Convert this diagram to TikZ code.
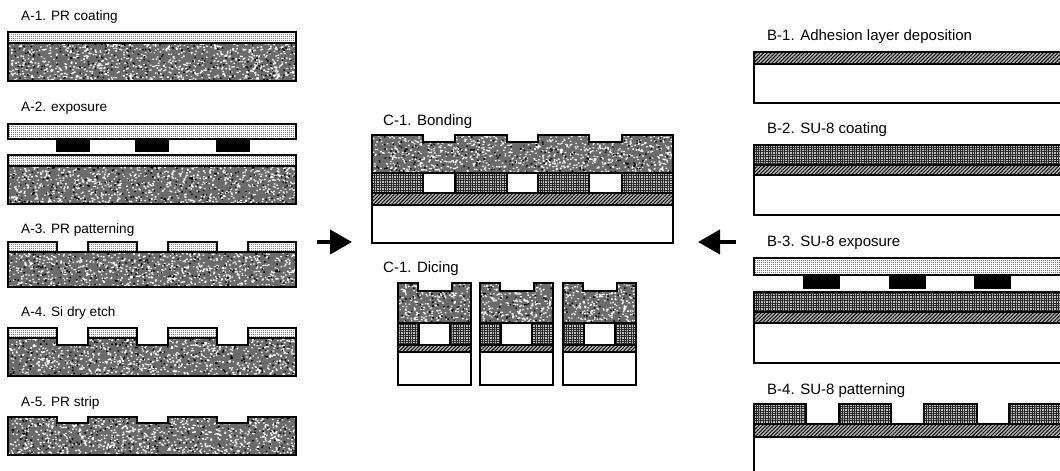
\documentclass[tikz,border=0pt]{standalone}
\usepackage{fontspec}
\setmainfont{Liberation Sans}
\usepackage{tikz}
\usetikzlibrary{arrows.meta, patterns.meta}

\newcommand{\siblock}[5]{%
    \pgfmathtruncatemacro{\noisecount}{#4*#5/12}
    \pgfmathtruncatemacro{\graincount}{#4*#5/45}
    \fill[black!58] #1;
    \begin{scope}
        \clip #1;
        \fill[white] \foreach \n in {1,...,\noisecount}{(#2+#4*rnd,#3+#5*rnd) rectangle ++(1.6,1.3)};
        \fill[black] \foreach \n in {1,...,\graincount}{(#2+#4*rnd,#3+#5*rnd) rectangle ++(1.5,1.5)};
    \end{scope}
    \draw[outline] #1;
}

\begin{document}
\begin{tikzpicture}[
    x=1pt, y=-1pt,
    outline/.style={draw=black, line width=2.2pt},
    steplabel/.style={anchor=west, inner sep=0pt, font=\fontsize{13.6}{14}\selectfont},
    biglabel/.style={steplabel, font=\fontsize{15}{16}\selectfont},
    resist/.style={outline, preaction={fill=black!50}, pattern={Hatch[angle=0, distance=2pt, line width=0.8pt]}, pattern color=white},
    maskplate/.style={outline, preaction={fill=black!55}, pattern={Hatch[angle=0, distance=2pt, line width=0.7pt]}, pattern color=white},
    absorber/.style={fill=black},
    sulayer/.style={outline, preaction={fill=black!25}, pattern={Hatch[angle=0, distance=2.4pt, line width=0.9pt]}, pattern color=black!85},
    adhesion/.style={outline, preaction={fill=black!30}, pattern={Lines[angle=45, distance=2.6pt, line width=0.9pt]}, pattern color=black},
    glass/.style={outline, fill=white},
    blockarr/.style={-{Triangle[length=22pt, width=24pt]}, line width=4pt}
]
    \pgfmathsetseed{41}
    \clip (0,0) rectangle (1060,471);
    \fill[white] (0,0) rectangle (1060,471);

    \node[steplabel] (labelAone) at (21,17) {A-1. PR coating};
    \draw[resist] (8,32) rectangle (296,43);
    \siblock{(8,43) rectangle (296,81)}{8}{43}{288}{38}

    \node[steplabel] (labelAtwo) at (21,108) {A-2. exposure};
    \draw[maskplate] (8,124) rectangle (296,139);
    \foreach \x in {56,135,216}
        \fill[absorber] (\x,139) rectangle ++(34,13);
    \draw[resist] (8,155) rectangle (296,166);
    \siblock{(8,166) rectangle (296,204)}{8}{166}{288}{38}

    \node[steplabel] (labelAthree) at (21,230) {A-3. PR patterning};
    \foreach \x/\w in {8/49,88/49,168/49,248/48}
        \draw[resist] (\x,242) rectangle ++(\w,10);
    \siblock{(8,252) rectangle (296,287)}{8}{252}{288}{35}

    \node[steplabel] (labelAfour) at (21,313) {A-4. Si dry etch};
    \foreach \x/\w in {8/49,88/49,168/49,248/48}
        \draw[resist] (\x,328) rectangle ++(\w,10);
    \siblock{(8,338) -- (57,338) -- (57,345) -- (88,345) -- (88,338) -- (137,338) -- (137,345) -- (168,345) -- (168,338) -- (217,338) -- (217,345) -- (248,345) -- (248,338) -- (296,338) -- (296,376) -- (8,376) -- cycle}{8}{338}{288}{38}

    \node[steplabel] (labelAfive) at (21,403) {A-5. PR strip};
    \siblock{(8,417) -- (57,417) -- (57,423) -- (88,423) -- (88,417) -- (137,417) -- (137,423) -- (168,423) -- (168,417) -- (217,417) -- (217,423) -- (248,423) -- (248,417) -- (296,417) -- (296,455) -- (8,455) -- cycle}{8}{417}{288}{38}

    \node[biglabel] (labelCone) at (383,122) {C-1. Bonding};
    \siblock{(372,135) -- (423,135) -- (423,142) -- (455,142) -- (455,135) -- (507,135) -- (507,142) -- (538,142) -- (538,135) -- (589,135) -- (589,142) -- (622,142) -- (622,135) -- (673,135) -- (673,173) -- (372,173) -- cycle}{372}{135}{301}{38}
    \foreach \x/\w in {372/51,455/52,538/51,622/51}
        \draw[sulayer] (\x,173) rectangle ++(\w,20);
    \draw[adhesion] (372,193) rectangle (673,205);
    \draw[glass] (372,205) rectangle (673,243);

    \node[biglabel] (labelCtwo) at (383,269) {C-1. Dicing};
    \foreach \x in {398,480,563}{
        \siblock{(\x,283) -- (\x+20,283) -- (\x+20,291) -- (\x+54,291) -- (\x+54,283) -- (\x+73,283) -- (\x+73,323) -- (\x,323) -- cycle}{\x}{283}{73}{40}
        \draw[sulayer] (\x,323) rectangle ++(21,22);
        \draw[sulayer] (\x+52,323) rectangle ++(21,22);
        \draw[outline] (\x,345) -- (\x+73,345);
        \draw[adhesion] (\x,345) rectangle ++(73,7);
        \draw[glass] (\x,352) rectangle ++(73,33);
    }

    \node[biglabel] (labelBone) at (767,37) {B-1. Adhesion layer deposition};
    \draw[adhesion] (754,52) rectangle (1064,64);
    \draw[glass] (754,64) rectangle (1064,103);

    \node[biglabel] (labelBtwo) at (767,130) {B-2. SU-8 coating};
    \draw[sulayer] (754,145) rectangle (1064,165);
    \draw[adhesion] (754,165) rectangle (1064,175);
    \draw[glass] (754,175) rectangle (1064,215);

    \node[biglabel] (labelBthree) at (767,243) {B-3. SU-8 exposure};
    \draw[maskplate] (754,258) rectangle (1064,275);
    \foreach \x in {803,889,974}
        \fill[absorber] (\x,275) rectangle ++(37,14);
    \draw[sulayer] (754,292) rectangle (1064,312);
    \draw[adhesion] (754,312) rectangle (1064,323);
    \draw[glass] (754,323) rectangle (1064,363);

    \node[biglabel] (labelBfour) at (767,391) {B-4. SU-8 patterning};
    \foreach \x/\w in {754/52,839/52,924/53,1009/55}
        \draw[sulayer] (\x,404) rectangle ++(\w,20);
    \draw[adhesion] (754,424) rectangle (1064,437);
    \draw[glass] (754,437) rectangle (1064,480);

    \coordinate (leftTail) at (317,242);
    \coordinate (leftTip) at (352,242);
    \coordinate (rightTail) at (736,242);
    \coordinate (rightTip) at (698,242);
    \draw[blockarr] (leftTail) -- (leftTip);
    \draw[blockarr] (rightTail) -- (rightTip);
\end{tikzpicture}
\end{document}
